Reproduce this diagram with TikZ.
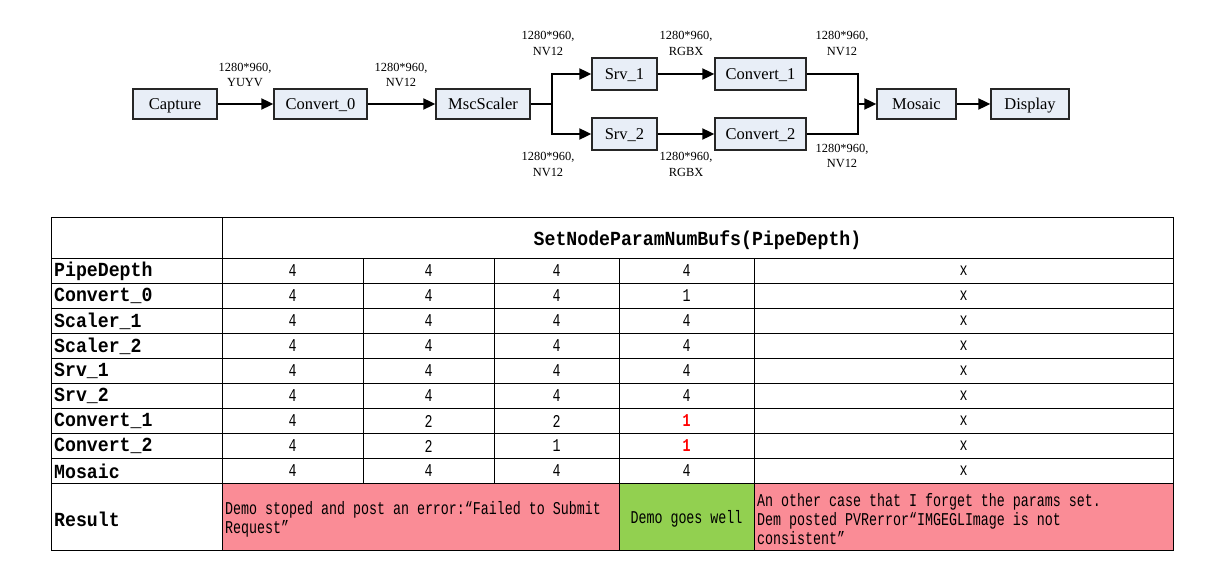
\documentclass[tikz,border=0pt]{standalone}
\usepackage{fontspec}
\setmainfont{Liberation Serif}
\newfontfamily\tabfont[FakeStretch=0.74]{Liberation Mono}
\newfontfamily\tabbold[FakeStretch=0.91]{Liberation Mono}
\usetikzlibrary{arrows.meta}
\definecolor{boxfill}{RGB}{232,238,247}
\definecolor{pinkc}{RGB}{250,140,150}
\definecolor{greenc}{RGB}{146,208,80}
\newcommand\rone{\textcolor{red}{\bfseries 1}}
\begin{document}
\begin{tikzpicture}[x=1pt,y=-1pt,
  blk/.style={draw=black!85, fill=boxfill, line width=1.3pt, inner sep=0pt,
    font=\fontsize{16.5}{18}\selectfont, minimum height=30pt,
    text height=11.5pt, text depth=0pt},
  conn/.style={line width=1.8pt},
  arr/.style={conn, -{Triangle[length=12pt,width=11pt]}},
  fmt/.style={font=\fontsize{12.4}{15.5}\selectfont, align=center, inner sep=0pt},
  gridline/.style={line width=0.9pt},
  lab/.style={font=\tabbold\bfseries\fontsize{20}{22}\selectfont, anchor=west, inner sep=0pt},
  val/.style={font=\tabfont\fontsize{18}{19}\selectfont, inner sep=0pt},
  res/.style={font=\tabfont\fontsize{18}{19}\selectfont, inner sep=0pt, align=left}
]
\useasboundingbox (0,0) rectangle (1219,575);

% ---------- flow diagram ----------
\node[blk, minimum width=84pt] (cap)   at (175,104) {Capture};
\node[blk, minimum width=93pt] (conv0) at (320.5,104) {Convert\_0};
\node[blk, minimum width=94pt] (msc)   at (483,104) {MscScaler};
\node[blk, minimum width=65pt, minimum height=32pt] (srv1)  at (624.5,74) {Srv\_1};
\node[blk, minimum width=91pt, minimum height=32pt] (conv1) at (760.5,74) {Convert\_1};
\node[blk, minimum width=65pt, minimum height=32pt] (srv2)  at (624.5,134) {Srv\_2};
\node[blk, minimum width=91pt, minimum height=32pt] (conv2) at (760.5,134) {Convert\_2};
\node[blk, minimum width=79pt] (mos)   at (916.5,104) {Mosaic};
\node[blk, minimum width=78pt] (disp)  at (1030,104) {Display};

\coordinate (br) at (552,104);
\coordinate (mg) at (858,104);

\draw[arr] (cap) -- (conv0);
\draw[arr] (conv0) -- (msc);
\draw[conn] (msc.east) -- (br);
\draw[arr] (br) |- (srv1.west);
\draw[arr] (br) |- (srv2.west);
\draw[arr] (srv1) -- (conv1);
\draw[arr] (srv2) -- (conv2);
\draw[conn] (conv1.east) -| (mg);
\draw[conn] (conv2.east) -| (mg);
\draw[arr] (mg) -- (mos);
\draw[arr] (mos) -- (disp);

\node[fmt] (l1) at (245,75) {1280*960,\\YUYV};
\node[fmt] (l2) at (401,75) {1280*960,\\NV12};
\node[fmt] (l3) at (548,43.5) {1280*960,\\NV12};
\node[fmt] (l4) at (686,43.5) {1280*960,\\RGBX};
\node[fmt] (l5) at (842,43.5) {1280*960,\\NV12};
\node[fmt] (l6) at (548,164.5) {1280*960,\\NV12};
\node[fmt] (l7) at (686,164.5) {1280*960,\\RGBX};
\node[fmt] (l8) at (842,156) {1280*960,\\NV12};

% ---------- table ----------
\fill[pinkc]  (222,483) rectangle (619,550);
\fill[greenc] (619,483) rectangle (754,550);
\fill[pinkc]  (754,483) rectangle (1173,550);

\draw[gridline] (51,217) rectangle (1173,550);
\draw[gridline] (222,217) -- (222,550);
\foreach \yy in {258,283,308,333,358,383,408,433,458,483}
  \draw[gridline] (51,\yy) -- (1173,\yy);
\foreach \xx in {363,494}
  \draw[gridline] (\xx,258) -- (\xx,483);
\foreach \xx in {619,754}
  \draw[gridline] (\xx,258) -- (\xx,550);

\node[font=\tabbold\bfseries\fontsize{20}{22}\selectfont, inner sep=0pt] (hdr) at (697.5,240) {SetNodeParamNumBufs(PipeDepth)};

\foreach \nm/\a/\b/\c/\d [count=\i] in {
   PipeDepth/4/4/4/4,
   Convert\_0/4/4/4/1,
   Scaler\_1/4/4/4/4,
   Scaler\_2/4/4/4/4,
   Srv\_1/4/4/4/4,
   Srv\_2/4/4/4/4,
   Convert\_1/4/2/2/\rone,
   Convert\_2/4/2/1/\rone,
   Mosaic/4/4/4/4} {
  \node[lab] (rl\i) at (54,246+25*\i) {\nm};
  \node[val] (ra\i) at (292.5,246+25*\i) {\a};
  \node[val] (rb\i) at (428.5,246+25*\i) {\b};
  \node[val] (rc\i) at (556.5,246+25*\i) {\c};
  \node[val] (rd\i) at (686.5,246+25*\i) {\d};
  \node[val] (re\i) at (963.5,246+25*\i) {x};
}

\node[lab] (rres) at (54,519) {Result};
\node[res, anchor=west] (res1) at (225,519.5) {Demo stoped and post an error:“Failed to Submit\\Request”};
\node[val] (res2) at (686.5,519) {Demo goes well};
\node[res, anchor=west] (res3) at (757,519) {An other case that I forget the params set.\\Dem posted PVRerror“IMGEGLImage is not\\consistent”};
\end{tikzpicture}
\end{document}
